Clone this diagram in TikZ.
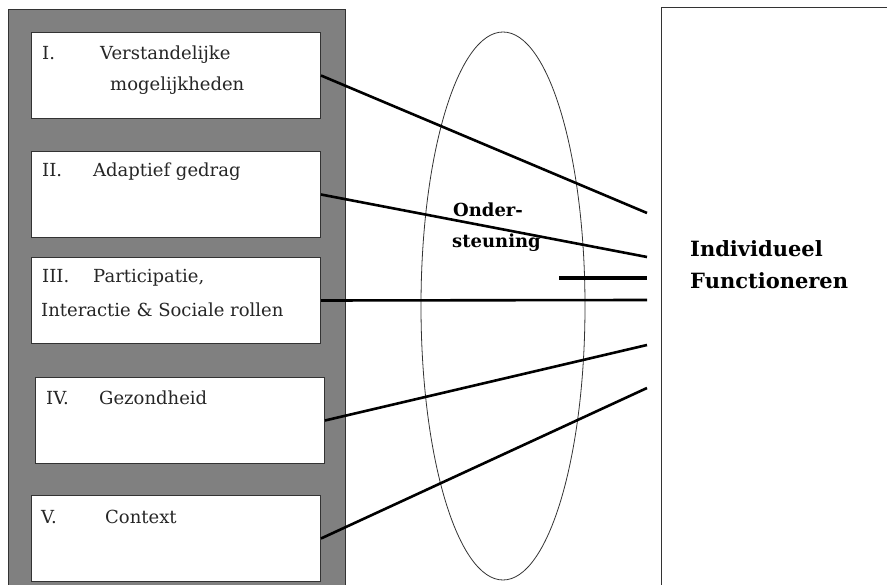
\documentclass[tikz,border=0pt]{standalone}
\usepackage{fontspec}
\setmainfont{DejaVu Serif}
\usetikzlibrary{shapes.geometric}
\tikzset{
  panel/.style   = { fill=black!50, draw=black!80, line width=1pt },
  item/.style    = { draw=black!80, fill=white, line width=1pt, inner sep=0pt,
                     minimum width=289pt, minimum height=86pt },
  txt/.style     = { anchor=base west, inner sep=0pt, text=black!85,
                     font=\fontsize{18}{21}\selectfont },
  bold/.style    = { anchor=base west, inner sep=0pt,
                     font=\fontsize{18}{21}\selectfont\bfseries },
  link/.style    = { line width=2.6pt, black },
  support/.style = { draw=black!80, ellipse, line width=0.8pt,
                     minimum width=164pt, minimum height=548pt, inner sep=0pt }
}

\begin{document}
\begin{tikzpicture}[x=1pt,y=-1pt]
  \useasboundingbox (0,0) rectangle (887,585);
  % Draw panels
  \draw[panel] (8,10) rectangle (345,600);
  \draw[draw=black!80, fill=white, line width=1pt] (661,8) rectangle (900,600);
  \node[support] (ond) at (503,306) {};
  % Draw boxes
  \node[item, anchor=north west] (b1) at (31,32)  {};
  \node[item, anchor=north west] (b2) at (31,151) {};
  \node[item, anchor=north west] (b3) at (31,257) {};
  \node[item, anchor=north west] (b4) at (35,377) {};
  \node[item, anchor=north west] (b5) at (31,495) {};
  % Draw box labels
  \node[txt] (n1)  at (42,60)  {I.};
  \node[txt] (t1)  at (100,60) {Verstandelijke};
  \node[txt] (t1b) at (110,91) {mogelijkheden};
  \node[txt] (n2)  at (42,177) {II.};
  \node[txt] (t2)  at (93,177) {Adaptief gedrag};
  \node[txt] (n3)  at (42,283) {III.};
  \node[txt] (t3)  at (93,283) {Participatie,};
  \node[txt] (t3b) at (41,317) {Interactie \& Sociale rollen};
  \node[txt] (n4)  at (46,405) {IV.};
  \node[txt] (t4)  at (99,405) {Gezondheid};
  \node[txt] (n5)  at (41,523) {V.};
  \node[txt] (t5)  at (105,523) {Context};
  \node[bold] (s1) at (453,217) {Onder-};
  \node[bold] (s2) at (452,248) {steuning};
  \node[bold, font=\fontsize{21}{24}\selectfont\bfseries] (f1) at (690,257) {Individueel};
  \node[bold, font=\fontsize{21}{24}\selectfont\bfseries] (f2) at (690,289) {Functioneren};
  % Draw links
  \coordinate (e1) at (647,213);
  \coordinate (e2) at (647,257);
  \coordinate (e3) at (647,300);
  \coordinate (e4) at (647,345);
  \coordinate (e5) at (647,388);
  \coordinate (m0) at (559,278);
  \coordinate (m1) at (647,278);
  \draw[link] (b1.east) -- (e1);
  \draw[link] (b2.east) -- (e2);
  \draw[link] (b3.east) -- (e3);
  \draw[link] (b4.east) -- (e4);
  \draw[link] (b5.east) -- (e5);
  \draw[link, line width=4pt] (m0) -- (m1);
\end{tikzpicture}
\end{document}
